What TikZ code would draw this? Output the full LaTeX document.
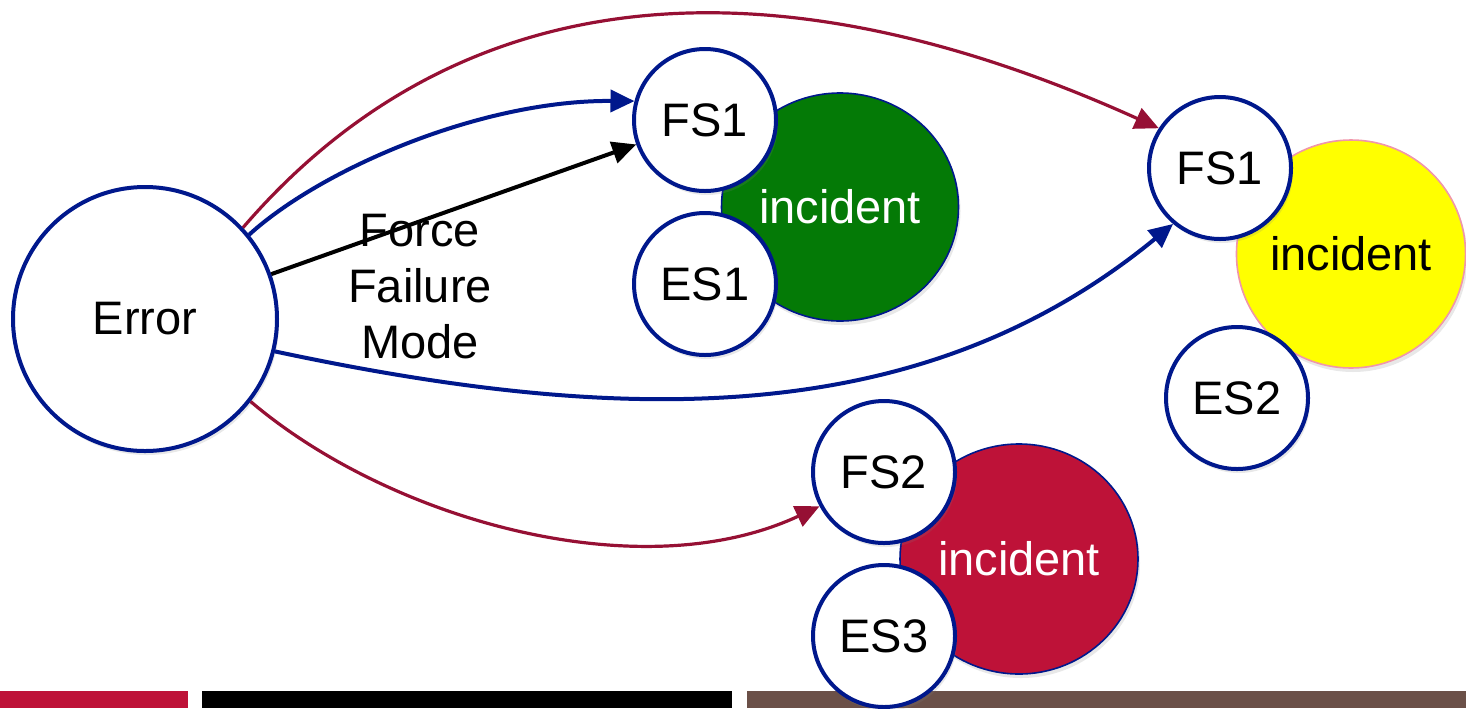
\documentclass[tikz,border=0pt]{standalone}
\usepackage{fontspec}
\setmainfont{Liberation Sans}
\usetikzlibrary{arrows.meta,shapes.geometric,shadows}
\definecolor{navy}{RGB}{0,24,140}
\definecolor{wine}{RGB}{150,16,52}
\definecolor{leaf}{RGB}{4,122,6}
\definecolor{crimson}{RGB}{190,18,56}
\definecolor{pinkrim}{RGB}{240,150,170}
\definecolor{umber}{RGB}{107,80,72}
\definecolor{lemon}{RGB}{255,255,0}

\begin{document}
\begin{tikzpicture}[x=0.5pt,y=-0.5pt,
  every node/.style={font=\fontsize{23.5}{28}\selectfont},
  softshadow/.style={drop shadow={opacity=0.18,shadow xshift=1pt,shadow yshift=-2pt}},
  state/.style={circle,draw=navy,line width=2pt,fill=white,inner sep=0pt,
    minimum size=71pt,softshadow},
  incident/.style={ellipse,inner sep=0pt,line width=0.8pt,softshadow},
  tip/.style={-{Triangle[length=12pt,width=11pt]}},
  bluelink/.style={tip,draw=navy,line width=2pt},
  redlink/.style={tip,draw=wine,line width=1.6pt},
  blacklink/.style={tip,draw=black,line width=2pt}]

\useasboundingbox (0,0) rectangle (1466,708);

% footer bars
\fill[crimson] (0,691) rectangle (188,708);
\fill[black] (202,691) rectangle (732,708);
\fill[umber] (747,691) rectangle (1466,708);

% incident blobs
\node[incident,draw=navy,fill=leaf,text=white,minimum width=118.5pt,minimum height=114pt]
  (inca) at (840,207) {incident};
\node[incident,draw=pinkrim,fill=lemon,text=black,minimum width=114pt,minimum height=114pt]
  (incb) at (1351,254) {incident};
\node[incident,draw=navy,fill=crimson,text=white,minimum width=119pt,minimum height=115pt]
  (incc) at (1019,559) {incident};

% states
\node[state,minimum size=132pt] (err) at (145,319) {Error};
\node[state] (fsa) at (705,120) {FS1};
\node[state] (esa) at (705,284) {ES1};
\node[state] (fsb) at (1220,168) {FS1};
\node[state] (esb) at (1237,398) {ES2};
\node[state] (fsc) at (884,472) {FS2};
\node[state] (esc) at (884,636) {ES3};

% connectors
\draw[redlink] (err.43) .. controls (430,10) and (720,-70) .. (fsb.147);
\draw[bluelink] (err.39) .. controls (320,170) and (480,100) .. (fsa.165);
\draw[blacklink] (err) -- (fsa);
\draw[bluelink] (err.-14) .. controls (620,425) and (920,432) .. (fsb.230);
\draw[redlink] (err.-38) .. controls (390,520) and (640,590) .. (fsc.208);

\node[align=center] (ffm) at (420,287) {Force\\Failure\\Mode};

\end{tikzpicture}
\end{document}
